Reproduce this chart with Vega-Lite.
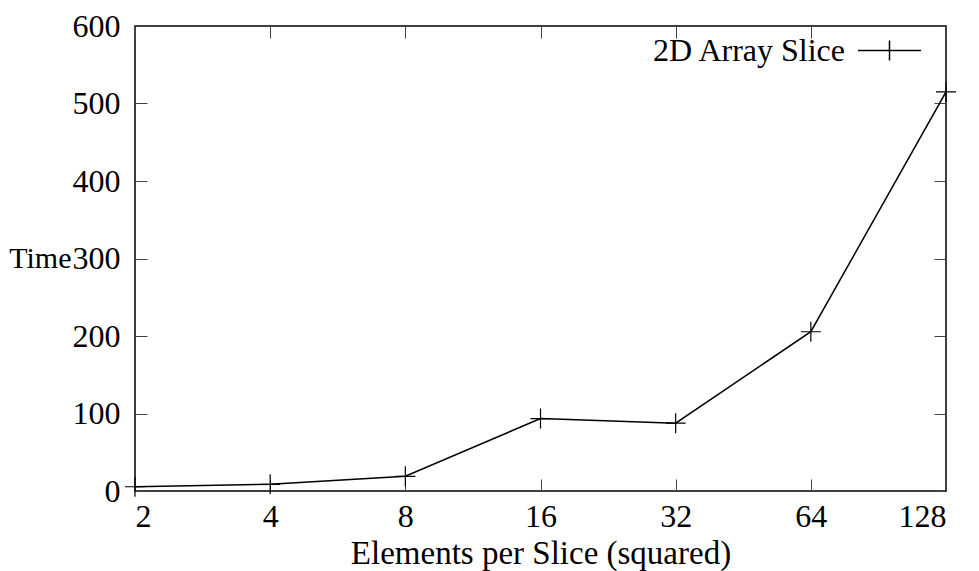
{
  "$schema": "https://vega.github.io/schema/vega-lite/v6.json",
  "width": 811,
  "height": 465,
  "autosize": "none",
  "padding": {"left": 135, "top": 26, "right": 33, "bottom": 80},
  "background": "white",
  "data": {"values": [
    {"n": 2, "time": 5.5, "series": "2D Array Slice"},
    {"n": 4, "time": 8.6, "series": "2D Array Slice"},
    {"n": 8, "time": 19, "series": "2D Array Slice"},
    {"n": 16, "time": 93.5, "series": "2D Array Slice"},
    {"n": 32, "time": 87.5, "series": "2D Array Slice"},
    {"n": 64, "time": 205.5, "series": "2D Array Slice"},
    {"n": 128, "time": 515, "series": "2D Array Slice"}
  ]},
  "layer": [
    {
      "mark": {"type": "line", "strokeWidth": 1.5, "clip": true},
      "encoding": {
        "x": {"field": "n", "type": "quantitative",
          "scale": {"type": "log", "base": 2, "domain": [2, 128], "nice": false},
          "axis": {"orient": "bottom", "values": [2, 4, 8, 16, 32, 64, 128], "format": "d",
            "title": "Elements per Slice (squared)", "titleY": 72, "titleBaseline": "alphabetic"}},
        "y": {"field": "time", "type": "quantitative",
          "scale": {"domain": [0, 600], "nice": false, "zero": false},
          "axis": {"orient": "left", "values": [0, 100, 200, 300, 400, 500, 600],
            "title": "Time", "titleAngle": 0, "titleAlign": "right", "titleBaseline": "middle",
            "titleX": -64, "titleY": 232, "titleFontSize": 30, "labelPadding": 27}},
        "color": {"field": "series", "type": "nominal",
          "scale": {"range": ["black"]},
          "legend": {"title": null, "orient": "none", "legendX": 722, "legendY": -8,
            "symbolType": "M-1,0H1M0,-0.32V0.32", "symbolSize": 3969, "symbolStrokeWidth": 1.5,
            "labelAlign": "right", "labelOffset": -77, "labelLimit": 0, "padding": 0}}
      }
    },
    {
      "mark": {"type": "point", "shape": "M-1,0H1M0,-1V1", "size": 400, "filled": false, "stroke": "black", "strokeWidth": 1.2, "opacity": 1},
      "encoding": {
        "x": {"field": "n", "type": "quantitative",
          "axis": {"orient": "top", "values": [2, 4, 8, 16, 32, 64, 128], "labels": false, "title": null}},
        "y": {"field": "time", "type": "quantitative",
          "axis": {"orient": "right", "values": [0, 100, 200, 300, 400, 500, 600], "labels": false, "title": null}}
      }
    }
  ],
  "resolve": {"axis": {"x": "independent", "y": "independent"}},
  "config": {
    "view": {"stroke": "black", "strokeWidth": 1.5},
    "font": "Liberation Serif",
    "axis": {"grid": false, "domain": false, "tickSize": -12, "tickColor": "#444", "tickWidth": 1,
      "labelFont": "Liberation Serif", "labelFontSize": 32, "labelColor": "black",
      "titleFont": "Liberation Serif", "titleFontSize": 33, "titleFontWeight": "normal", "titleColor": "black",
      "labelPadding": 22},
    "legend": {"labelFont": "Liberation Serif", "labelFontSize": 32, "labelColor": "black"}
  }
}
